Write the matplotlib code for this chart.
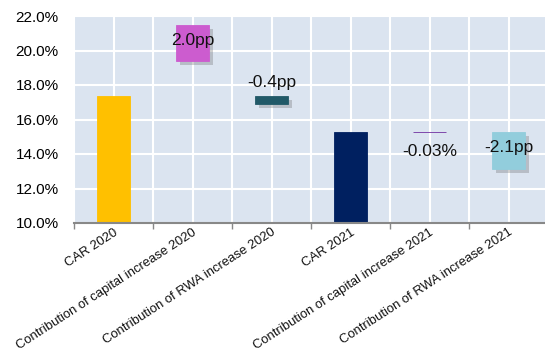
import matplotlib
matplotlib.use("Agg")
import matplotlib.pyplot as plt
import matplotlib.patheffects as pe

# categories along the x axis
categories = ["CAR 2020", "Contribution of capital increase 2020",
              "Contribution of RWA increase 2020", "CAR 2021",
              "Contribution of capital increase 2021",
              "Contribution of RWA increase 2021"]

# bar bottoms and tops (CAR in %)
bottoms = [10.0, 19.40, 16.92, 10.0, 15.25, 13.15]
tops = [17.36, 21.48, 17.36, 15.28, 15.28, 15.28]

# value labels and where they sit (y in %)
value_labels = ["", "2.0pp", "-0.4pp", "", "-0.03%", "-2.1pp"]
label_y = [0, 20.6, 18.13, 0, 14.13, 14.37]

colors = ["#ffc000", "#cc5ccf", "#215968", "#002060", "#7030a0", "#92cddc"]
shadowed = [False, True, True, False, False, True]

yticks = [10, 12, 14, 16, 18, 20, 22]

plt.rcParams['font.family'] = ['Liberation Sans', 'DejaVu Sans']

fig = plt.figure(figsize=(5.45, 3.52), dpi=100)
ax = fig.add_axes([74 / 545, 129 / 352, 471 / 545, 207 / 352])
ax.set_facecolor("#dbe4f0")

x = list(range(len(categories)))
for i in x:
    h = tops[i] - bottoms[i]
    b = ax.bar(i, h, bottom=bottoms[i], width=0.42, color=colors[i],
               edgecolor=colors[i], linewidth=0.6, zorder=3)
    if shadowed[i]:
        b[0].set_path_effects([pe.SimplePatchShadow(offset=(3, -3), shadow_rgbFace="#666666", alpha=0.3),
                               pe.Normal()])
    if value_labels[i]:
        ax.text(i, label_y[i], value_labels[i], ha="center", va="center",
                fontsize=12.5, color="#111111", zorder=4)

ax.set_ylim(10, 22)
ax.set_xlim(-0.5, 5.46)
ax.set_yticks(yticks)
ax.set_yticklabels(["%.1f%%" % v for v in yticks], fontsize=11)

# grid: white lines every 2% and every half category
for v in yticks:
    ax.axhline(v, color="white", linewidth=1.5, zorder=1)
for k in range(12):
    ax.axvline(-0.5 + 0.5 * k, color="white", linewidth=1.5, zorder=1)

# ticks at the category boundaries, labels at the centers
ax.set_xticks([i - 0.5 for i in x])
ax.set_xticklabels([])
ax.tick_params(axis="x", direction="out", length=4, color="#888888", width=1)
ax.tick_params(axis="y", length=0, pad=11)
for i in x:
    ax.text(i + 0.04, 9.52, categories[i], rotation=33, ha="right", va="center",
            rotation_mode="anchor", fontsize=9.4, color="#111111")

for s in ["top", "right", "left"]:
    ax.spines[s].set_visible(False)
ax.spines["bottom"].set_color("#888888")
ax.spines["bottom"].set_linewidth(1.5)
ax.spines["bottom"].set_zorder(5)

fig.savefig("out.png", dpi=100)
